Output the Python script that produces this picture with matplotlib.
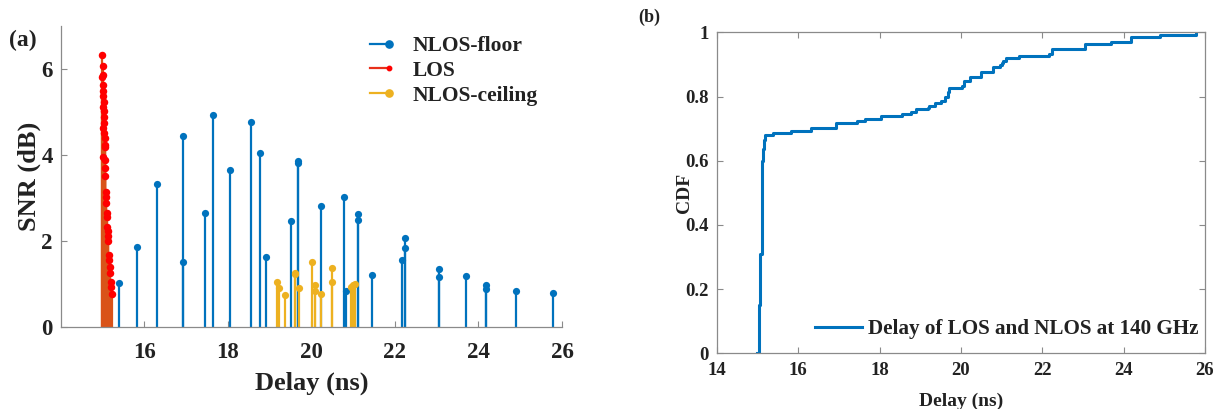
import numpy as np
import matplotlib.pyplot as plt
from matplotlib.lines import Line2D

plt.rcParams['font.family'] = ['Liberation Serif', 'DejaVu Serif']
plt.rcParams['font.weight'] = 'bold'
plt.rcParams['axes.labelweight'] = 'bold'

# (a) stems: delay (ns) and SNR (dB)
los_delay = [14.99, 14.997, 14.997, 14.99, 14.997, 15.005, 15.013, 15.021, 15.013, 15.021,
             15.029, 15.021, 15.013, 15.029, 15.045, 15.045, 15.053, 15.013, 15.053, 15.045,
             15.061, 15.069, 15.077, 15.085, 15.093, 15.109, 15.109, 15.117, 15.125, 15.133,
             15.149, 15.157, 15.165, 15.172, 15.188, 15.204, 15.212]
los_snr = [6.33, 6.07, 5.86, 5.81, 5.63, 5.49, 5.36, 5.24, 5.12, 5.01,
           4.89, 4.74, 4.62, 4.50, 4.39, 4.23, 4.18, 3.96, 3.88, 3.69,
           3.50, 3.15, 3.03, 2.88, 2.66, 2.57, 2.33, 2.24, 2.12, 2.01,
           1.67, 1.56, 1.40, 1.25, 1.04, 0.94, 0.78]

floor_delay = [15.38, 15.81, 16.31, 16.93, 16.93, 17.44, 17.65, 18.04, 18.55, 18.77,
               18.90, 19.50, 19.67, 19.67, 20.23, 20.79, 20.82, 21.12, 21.12, 21.44,
               22.17, 22.25, 22.25, 23.06, 23.06, 23.69, 24.18, 24.18, 24.89, 25.78]
floor_snr = [1.02, 1.87, 3.33, 4.45, 1.52, 2.66, 4.93, 3.64, 4.77, 4.04,
             1.63, 2.46, 3.86, 3.82, 2.81, 3.03, 0.84, 2.64, 2.49, 1.21,
             1.56, 2.08, 1.84, 1.35, 1.17, 1.19, 0.98, 0.88, 0.84, 0.79]

ceil_delay = [19.18, 19.22, 19.36, 19.60, 19.60, 19.70, 20.02, 20.08, 20.08, 20.24,
              20.50, 20.50, 20.95, 20.99, 21.04]
ceil_snr = [1.04, 0.90, 0.74, 1.25, 1.23, 0.91, 1.52, 0.98, 0.84, 0.77,
            1.37, 1.05, 0.94, 0.98, 1.00]

cdf_delay = [14.99, 15.03, 15.06, 15.10, 15.12, 15.14, 15.16, 15.18, 15.38, 15.81,
             16.31, 16.93, 17.44, 17.65, 18.04, 18.55, 18.77, 18.90, 19.18, 19.22,
             19.36, 19.50, 19.60, 19.67, 19.70, 20.02, 20.08, 20.23, 20.50, 20.80,
             20.95, 21.00, 21.04, 21.12, 21.44, 22.17, 22.25, 23.06, 23.69, 24.18,
             24.89, 25.78]
cdf_prob = [0.0, 0.15, 0.31, 0.49, 0.60, 0.635, 0.665, 0.681, 0.687, 0.694,
            0.701, 0.716, 0.723, 0.730, 0.738, 0.745, 0.753, 0.760, 0.765, 0.771,
            0.779, 0.786, 0.800, 0.815, 0.826, 0.833, 0.847, 0.861, 0.876, 0.891,
            0.898, 0.905, 0.912, 0.920, 0.927, 0.934, 0.949, 0.963, 0.970, 0.984,
            0.992, 1.0]

BLUE = '#0072BD'
ORANGE = '#D95319'
YELLOW = '#EDB120'
AX_C = '#8a8a8a'
TXT = '#222222'

fig = plt.figure(figsize=(12.27, 4.09), dpi=100)
ax1 = fig.add_axes([0.0497, 0.2, 0.4083, 0.737])
ax2 = fig.add_axes([0.5843, 0.136, 0.3977, 0.785])


def stems(ax, x, y, lc, mc, ms):
    c = ax.stem(x, y, linefmt='-', markerfmt='o', basefmt=' ')
    plt.setp(c.stemlines, color=lc, linewidth=1.6)
    plt.setp(c.markerline, color=mc, markersize=ms, markeredgewidth=0)
    return c


stems(ax1, floor_delay, floor_snr, BLUE, BLUE, 5.2)
stems(ax1, los_delay, los_snr, ORANGE, '#FF0000', 5.4)
stems(ax1, ceil_delay, ceil_snr, YELLOW, YELLOW, 5.2)

ax1.set_xlim(14, 26)
ax1.set_ylim(0, 7)
ax1.set_xticks([16, 18, 20, 22, 24, 26])
ax1.set_yticks([0, 2, 4, 6])
for s in ['top', 'right']:
    ax1.spines[s].set_visible(False)
for s in ['left', 'bottom']:
    ax1.spines[s].set_color(AX_C)
    ax1.spines[s].set_linewidth(0.9)
ax1.tick_params(direction='in', length=4, color=AX_C, labelsize=16.5, labelcolor=TXT)
ax1.tick_params(axis='x', pad=11)
ax1.tick_params(axis='y', pad=6)
ax1.set_xlabel('Delay (ns)', fontsize=19, color=TXT, labelpad=6)
ax1.set_ylabel('SNR (dB)', fontsize=19, color=TXT, labelpad=0)

hands = [Line2D([0, 1], [0, 0], color=BLUE, lw=1.6, marker='o', ms=5.2),
         Line2D([0, 1], [0, 0], color='#E8301A', lw=1.6, marker='o', ms=3.2,
                markerfacecolor='#FF0000', markeredgecolor='#FF0000'),
         Line2D([0, 1], [0, 0], color=YELLOW, lw=1.6, marker='o', ms=5.2)]
leg = fig.legend(hands, ['NLOS-floor', 'LOS', 'NLOS-ceiling'], loc='upper left',
                 bbox_to_anchor=(0.296, 0.912), frameon=False, fontsize=15.5,
                 numpoints=2, handlelength=1.5, handletextpad=0.8,
                 labelspacing=0.22, borderpad=0, borderaxespad=0)
for h in leg.legend_handles:
    h.set_markevery([1])
for t in leg.get_texts():
    t.set_color(TXT)

# (b)
ax2.step(cdf_delay, cdf_prob, where='post', color=BLUE, lw=2.2,
         label='Delay of LOS and NLOS at 140 GHz')
ax2.set_xlim(14, 26)
ax2.set_ylim(0, 1)
ax2.set_xticks([14, 16, 18, 20, 22, 24, 26])
ax2.set_yticks([0, 0.2, 0.4, 0.6, 0.8, 1])
ax2.set_yticklabels(['0', '0.2', '0.4', '0.6', '0.8', '1'])
for s in ax2.spines.values():
    s.set_color(AX_C)
    s.set_linewidth(0.9)
ax2.tick_params(direction='in', length=4, color=AX_C, labelsize=13.5, labelcolor=TXT,
                top=True, right=True)
ax2.tick_params(axis='x', pad=6)
ax2.tick_params(axis='y', pad=6)
ax2.set_xlabel('Delay (ns)', fontsize=14, color=TXT, labelpad=10)
ax2.set_ylabel('CDF', fontsize=14, color=TXT)
ax2.yaxis.set_label_coords(-0.05, 0.5)
leg2 = ax2.legend(loc='lower right', bbox_to_anchor=(0.987, 0.045), frameon=False,
                  fontsize=15.2, handlelength=2.2, handletextpad=0.3,
                  borderpad=0, borderaxespad=0)
for t in leg2.get_texts():
    t.set_color(TXT)

fig.text(23 / 1227, 1 - 40 / 409, '(a)', fontsize=17, color=TXT, ha='center', va='center')
fig.text(649 / 1227, 1 - 17.5 / 409, '(b)', fontsize=13, color=TXT, ha='center', va='center')

fig.savefig('out.png', dpi=100)
